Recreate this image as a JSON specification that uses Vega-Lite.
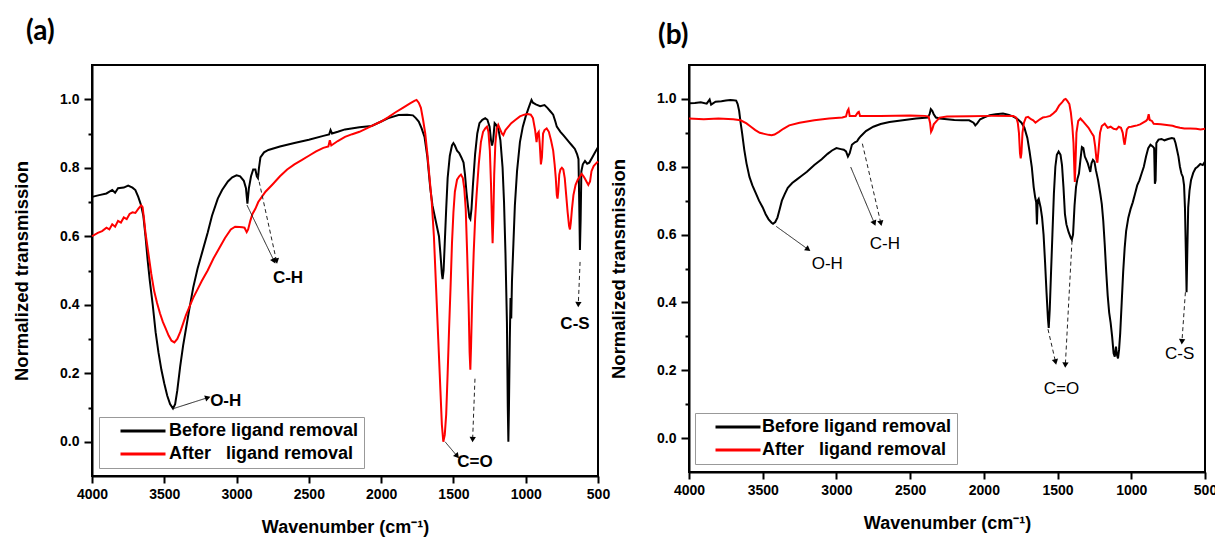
{
"$schema": "https://vega.github.io/schema/vega-lite/v6.json",
"background": "white",
"padding": {"left": 11, "top": 17, "right": 0, "bottom": 0},
"datasets": {
"spectra": [
{"p":"a","s":"Before ligand removal","w":4000,"v":0.715},{"p":"a","s":"Before ligand removal","w":3950,"v":0.72},{"p":"a","s":"Before ligand removal","w":3900,"v":0.725},{"p":"a","s":"Before ligand removal","w":3860,"v":0.735},{"p":"a","s":"Before ligand removal","w":3840,"v":0.727},{"p":"a","s":"Before ligand removal","w":3820,"v":0.74},{"p":"a","s":"Before ligand removal","w":3780,"v":0.742},{"p":"a","s":"Before ligand removal","w":3750,"v":0.748},{"p":"a","s":"Before ligand removal","w":3720,"v":0.742},{"p":"a","s":"Before ligand removal","w":3700,"v":0.735},{"p":"a","s":"Before ligand removal","w":3680,"v":0.715},{"p":"a","s":"Before ligand removal","w":3660,"v":0.69},{"p":"a","s":"Before ligand removal","w":3645,"v":0.66},{"p":"a","s":"Before ligand removal","w":3630,"v":0.6},{"p":"a","s":"Before ligand removal","w":3615,"v":0.53},{"p":"a","s":"Before ligand removal","w":3600,"v":0.47},{"p":"a","s":"Before ligand removal","w":3580,"v":0.4},{"p":"a","s":"Before ligand removal","w":3560,"v":0.32},{"p":"a","s":"Before ligand removal","w":3540,"v":0.26},{"p":"a","s":"Before ligand removal","w":3520,"v":0.21},{"p":"a","s":"Before ligand removal","w":3500,"v":0.17},{"p":"a","s":"Before ligand removal","w":3480,"v":0.135},{"p":"a","s":"Before ligand removal","w":3460,"v":0.11},{"p":"a","s":"Before ligand removal","w":3440,"v":0.097},{"p":"a","s":"Before ligand removal","w":3425,"v":0.11},{"p":"a","s":"Before ligand removal","w":3410,"v":0.15},{"p":"a","s":"Before ligand removal","w":3390,"v":0.22},{"p":"a","s":"Before ligand removal","w":3370,"v":0.28},{"p":"a","s":"Before ligand removal","w":3350,"v":0.33},{"p":"a","s":"Before ligand removal","w":3330,"v":0.38},{"p":"a","s":"Before ligand removal","w":3300,"v":0.45},{"p":"a","s":"Before ligand removal","w":3270,"v":0.505},{"p":"a","s":"Before ligand removal","w":3240,"v":0.55},{"p":"a","s":"Before ligand removal","w":3200,"v":0.61},{"p":"a","s":"Before ligand removal","w":3170,"v":0.66},{"p":"a","s":"Before ligand removal","w":3130,"v":0.71},{"p":"a","s":"Before ligand removal","w":3100,"v":0.735},{"p":"a","s":"Before ligand removal","w":3060,"v":0.76},{"p":"a","s":"Before ligand removal","w":3030,"v":0.772},{"p":"a","s":"Before ligand removal","w":3000,"v":0.778},{"p":"a","s":"Before ligand removal","w":2975,"v":0.775},{"p":"a","s":"Before ligand removal","w":2950,"v":0.762},{"p":"a","s":"Before ligand removal","w":2935,"v":0.74},{"p":"a","s":"Before ligand removal","w":2925,"v":0.695},{"p":"a","s":"Before ligand removal","w":2915,"v":0.74},{"p":"a","s":"Before ligand removal","w":2900,"v":0.775},{"p":"a","s":"Before ligand removal","w":2885,"v":0.795},{"p":"a","s":"Before ligand removal","w":2870,"v":0.795},{"p":"a","s":"Before ligand removal","w":2860,"v":0.775},{"p":"a","s":"Before ligand removal","w":2852,"v":0.77},{"p":"a","s":"Before ligand removal","w":2845,"v":0.8},{"p":"a","s":"Before ligand removal","w":2835,"v":0.83},{"p":"a","s":"Before ligand removal","w":2810,"v":0.845},{"p":"a","s":"Before ligand removal","w":2780,"v":0.852},{"p":"a","s":"Before ligand removal","w":2700,"v":0.862},{"p":"a","s":"Before ligand removal","w":2600,"v":0.872},{"p":"a","s":"Before ligand removal","w":2500,"v":0.882},{"p":"a","s":"Before ligand removal","w":2400,"v":0.893},{"p":"a","s":"Before ligand removal","w":2360,"v":0.897},{"p":"a","s":"Before ligand removal","w":2350,"v":0.91},{"p":"a","s":"Before ligand removal","w":2340,"v":0.9},{"p":"a","s":"Before ligand removal","w":2300,"v":0.905},{"p":"a","s":"Before ligand removal","w":2250,"v":0.912},{"p":"a","s":"Before ligand removal","w":2150,"v":0.918},{"p":"a","s":"Before ligand removal","w":2066,"v":0.922},{"p":"a","s":"Before ligand removal","w":2000,"v":0.935},{"p":"a","s":"Before ligand removal","w":1950,"v":0.945},{"p":"a","s":"Before ligand removal","w":1880,"v":0.954},{"p":"a","s":"Before ligand removal","w":1820,"v":0.955},{"p":"a","s":"Before ligand removal","w":1780,"v":0.953},{"p":"a","s":"Before ligand removal","w":1760,"v":0.945},{"p":"a","s":"Before ligand removal","w":1740,"v":0.935},{"p":"a","s":"Before ligand removal","w":1720,"v":0.915},{"p":"a","s":"Before ligand removal","w":1700,"v":0.89},{"p":"a","s":"Before ligand removal","w":1680,"v":0.83},{"p":"a","s":"Before ligand removal","w":1660,"v":0.74},{"p":"a","s":"Before ligand removal","w":1645,"v":0.69},{"p":"a","s":"Before ligand removal","w":1630,"v":0.66},{"p":"a","s":"Before ligand removal","w":1615,"v":0.63},{"p":"a","s":"Before ligand removal","w":1600,"v":0.6},{"p":"a","s":"Before ligand removal","w":1590,"v":0.55},{"p":"a","s":"Before ligand removal","w":1580,"v":0.49},{"p":"a","s":"Before ligand removal","w":1575,"v":0.475},{"p":"a","s":"Before ligand removal","w":1568,"v":0.5},{"p":"a","s":"Before ligand removal","w":1560,"v":0.58},{"p":"a","s":"Before ligand removal","w":1550,"v":0.68},{"p":"a","s":"Before ligand removal","w":1540,"v":0.77},{"p":"a","s":"Before ligand removal","w":1525,"v":0.835},{"p":"a","s":"Before ligand removal","w":1510,"v":0.865},{"p":"a","s":"Before ligand removal","w":1500,"v":0.872},{"p":"a","s":"Before ligand removal","w":1490,"v":0.865},{"p":"a","s":"Before ligand removal","w":1475,"v":0.85},{"p":"a","s":"Before ligand removal","w":1460,"v":0.843},{"p":"a","s":"Before ligand removal","w":1445,"v":0.83},{"p":"a","s":"Before ligand removal","w":1430,"v":0.815},{"p":"a","s":"Before ligand removal","w":1420,"v":0.78},{"p":"a","s":"Before ligand removal","w":1410,"v":0.73},{"p":"a","s":"Before ligand removal","w":1400,"v":0.69},{"p":"a","s":"Before ligand removal","w":1390,"v":0.655},{"p":"a","s":"Before ligand removal","w":1383,"v":0.65},{"p":"a","s":"Before ligand removal","w":1375,"v":0.68},{"p":"a","s":"Before ligand removal","w":1365,"v":0.75},{"p":"a","s":"Before ligand removal","w":1350,"v":0.84},{"p":"a","s":"Before ligand removal","w":1335,"v":0.9},{"p":"a","s":"Before ligand removal","w":1320,"v":0.93},{"p":"a","s":"Before ligand removal","w":1300,"v":0.94},{"p":"a","s":"Before ligand removal","w":1280,"v":0.945},{"p":"a","s":"Before ligand removal","w":1265,"v":0.94},{"p":"a","s":"Before ligand removal","w":1250,"v":0.92},{"p":"a","s":"Before ligand removal","w":1240,"v":0.88},{"p":"a","s":"Before ligand removal","w":1233,"v":0.865},{"p":"a","s":"Before ligand removal","w":1225,"v":0.88},{"p":"a","s":"Before ligand removal","w":1215,"v":0.93},{"p":"a","s":"Before ligand removal","w":1205,"v":0.925},{"p":"a","s":"Before ligand removal","w":1190,"v":0.915},{"p":"a","s":"Before ligand removal","w":1175,"v":0.88},{"p":"a","s":"Before ligand removal","w":1160,"v":0.8},{"p":"a","s":"Before ligand removal","w":1150,"v":0.7},{"p":"a","s":"Before ligand removal","w":1140,"v":0.55},{"p":"a","s":"Before ligand removal","w":1130,"v":0.35},{"p":"a","s":"Before ligand removal","w":1124,"v":0.1},{"p":"a","s":"Before ligand removal","w":1120,"v":0.0},{"p":"a","s":"Before ligand removal","w":1116,"v":0.1},{"p":"a","s":"Before ligand removal","w":1110,"v":0.3},{"p":"a","s":"Before ligand removal","w":1105,"v":0.42},{"p":"a","s":"Before ligand removal","w":1100,"v":0.36},{"p":"a","s":"Before ligand removal","w":1095,"v":0.47},{"p":"a","s":"Before ligand removal","w":1085,"v":0.58},{"p":"a","s":"Before ligand removal","w":1075,"v":0.69},{"p":"a","s":"Before ligand removal","w":1060,"v":0.79},{"p":"a","s":"Before ligand removal","w":1040,"v":0.875},{"p":"a","s":"Before ligand removal","w":1020,"v":0.92},{"p":"a","s":"Before ligand removal","w":1000,"v":0.95},{"p":"a","s":"Before ligand removal","w":980,"v":0.975},{"p":"a","s":"Before ligand removal","w":960,"v":0.998},{"p":"a","s":"Before ligand removal","w":950,"v":0.99},{"p":"a","s":"Before ligand removal","w":930,"v":0.985},{"p":"a","s":"Before ligand removal","w":900,"v":0.98},{"p":"a","s":"Before ligand removal","w":870,"v":0.983},{"p":"a","s":"Before ligand removal","w":850,"v":0.975},{"p":"a","s":"Before ligand removal","w":830,"v":0.965},{"p":"a","s":"Before ligand removal","w":810,"v":0.955},{"p":"a","s":"Before ligand removal","w":795,"v":0.935},{"p":"a","s":"Before ligand removal","w":785,"v":0.92},{"p":"a","s":"Before ligand removal","w":760,"v":0.905},{"p":"a","s":"Before ligand removal","w":740,"v":0.895},{"p":"a","s":"Before ligand removal","w":720,"v":0.885},{"p":"a","s":"Before ligand removal","w":700,"v":0.875},{"p":"a","s":"Before ligand removal","w":680,"v":0.865},{"p":"a","s":"Before ligand removal","w":660,"v":0.855},{"p":"a","s":"Before ligand removal","w":645,"v":0.84},{"p":"a","s":"Before ligand removal","w":635,"v":0.825},{"p":"a","s":"Before ligand removal","w":630,"v":0.7},{"p":"a","s":"Before ligand removal","w":625,"v":0.56},{"p":"a","s":"Before ligand removal","w":620,"v":0.65},{"p":"a","s":"Before ligand removal","w":615,"v":0.79},{"p":"a","s":"Before ligand removal","w":605,"v":0.81},{"p":"a","s":"Before ligand removal","w":590,"v":0.82},{"p":"a","s":"Before ligand removal","w":575,"v":0.812},{"p":"a","s":"Before ligand removal","w":560,"v":0.815},{"p":"a","s":"Before ligand removal","w":540,"v":0.83},{"p":"a","s":"Before ligand removal","w":520,"v":0.845},{"p":"a","s":"Before ligand removal","w":500,"v":0.86},
{"p":"a","s":"After\u00a0\u00a0\u00a0ligand removal","w":4000,"v":0.6},{"p":"a","s":"After\u00a0\u00a0\u00a0ligand removal","w":3960,"v":0.61},{"p":"a","s":"After\u00a0\u00a0\u00a0ligand removal","w":3930,"v":0.615},{"p":"a","s":"After\u00a0\u00a0\u00a0ligand removal","w":3900,"v":0.625},{"p":"a","s":"After\u00a0\u00a0\u00a0ligand removal","w":3880,"v":0.62},{"p":"a","s":"After\u00a0\u00a0\u00a0ligand removal","w":3860,"v":0.635},{"p":"a","s":"After\u00a0\u00a0\u00a0ligand removal","w":3840,"v":0.628},{"p":"a","s":"After\u00a0\u00a0\u00a0ligand removal","w":3820,"v":0.645},{"p":"a","s":"After\u00a0\u00a0\u00a0ligand removal","w":3800,"v":0.64},{"p":"a","s":"After\u00a0\u00a0\u00a0ligand removal","w":3780,"v":0.655},{"p":"a","s":"After\u00a0\u00a0\u00a0ligand removal","w":3760,"v":0.65},{"p":"a","s":"After\u00a0\u00a0\u00a0ligand removal","w":3740,"v":0.665},{"p":"a","s":"After\u00a0\u00a0\u00a0ligand removal","w":3720,"v":0.67},{"p":"a","s":"After\u00a0\u00a0\u00a0ligand removal","w":3700,"v":0.668},{"p":"a","s":"After\u00a0\u00a0\u00a0ligand removal","w":3680,"v":0.68},{"p":"a","s":"After\u00a0\u00a0\u00a0ligand removal","w":3660,"v":0.69},{"p":"a","s":"After\u00a0\u00a0\u00a0ligand removal","w":3650,"v":0.685},{"p":"a","s":"After\u00a0\u00a0\u00a0ligand removal","w":3640,"v":0.65},{"p":"a","s":"After\u00a0\u00a0\u00a0ligand removal","w":3630,"v":0.61},{"p":"a","s":"After\u00a0\u00a0\u00a0ligand removal","w":3610,"v":0.55},{"p":"a","s":"After\u00a0\u00a0\u00a0ligand removal","w":3590,"v":0.49},{"p":"a","s":"After\u00a0\u00a0\u00a0ligand removal","w":3570,"v":0.44},{"p":"a","s":"After\u00a0\u00a0\u00a0ligand removal","w":3550,"v":0.405},{"p":"a","s":"After\u00a0\u00a0\u00a0ligand removal","w":3530,"v":0.375},{"p":"a","s":"After\u00a0\u00a0\u00a0ligand removal","w":3510,"v":0.35},{"p":"a","s":"After\u00a0\u00a0\u00a0ligand removal","w":3490,"v":0.33},{"p":"a","s":"After\u00a0\u00a0\u00a0ligand removal","w":3470,"v":0.31},{"p":"a","s":"After\u00a0\u00a0\u00a0ligand removal","w":3450,"v":0.295},{"p":"a","s":"After\u00a0\u00a0\u00a0ligand removal","w":3430,"v":0.29},{"p":"a","s":"After\u00a0\u00a0\u00a0ligand removal","w":3410,"v":0.3},{"p":"a","s":"After\u00a0\u00a0\u00a0ligand removal","w":3390,"v":0.32},{"p":"a","s":"After\u00a0\u00a0\u00a0ligand removal","w":3370,"v":0.345},{"p":"a","s":"After\u00a0\u00a0\u00a0ligand removal","w":3350,"v":0.37},{"p":"a","s":"After\u00a0\u00a0\u00a0ligand removal","w":3330,"v":0.39},{"p":"a","s":"After\u00a0\u00a0\u00a0ligand removal","w":3300,"v":0.42},{"p":"a","s":"After\u00a0\u00a0\u00a0ligand removal","w":3270,"v":0.445},{"p":"a","s":"After\u00a0\u00a0\u00a0ligand removal","w":3240,"v":0.47},{"p":"a","s":"After\u00a0\u00a0\u00a0ligand removal","w":3200,"v":0.5},{"p":"a","s":"After\u00a0\u00a0\u00a0ligand removal","w":3160,"v":0.535},{"p":"a","s":"After\u00a0\u00a0\u00a0ligand removal","w":3120,"v":0.565},{"p":"a","s":"After\u00a0\u00a0\u00a0ligand removal","w":3080,"v":0.595},{"p":"a","s":"After\u00a0\u00a0\u00a0ligand removal","w":3040,"v":0.62},{"p":"a","s":"After\u00a0\u00a0\u00a0ligand removal","w":3010,"v":0.628},{"p":"a","s":"After\u00a0\u00a0\u00a0ligand removal","w":2980,"v":0.627},{"p":"a","s":"After\u00a0\u00a0\u00a0ligand removal","w":2960,"v":0.626},{"p":"a","s":"After\u00a0\u00a0\u00a0ligand removal","w":2945,"v":0.625},{"p":"a","s":"After\u00a0\u00a0\u00a0ligand removal","w":2930,"v":0.612},{"p":"a","s":"After\u00a0\u00a0\u00a0ligand removal","w":2920,"v":0.62},{"p":"a","s":"After\u00a0\u00a0\u00a0ligand removal","w":2905,"v":0.645},{"p":"a","s":"After\u00a0\u00a0\u00a0ligand removal","w":2890,"v":0.665},{"p":"a","s":"After\u00a0\u00a0\u00a0ligand removal","w":2870,"v":0.68},{"p":"a","s":"After\u00a0\u00a0\u00a0ligand removal","w":2850,"v":0.7},{"p":"a","s":"After\u00a0\u00a0\u00a0ligand removal","w":2800,"v":0.73},{"p":"a","s":"After\u00a0\u00a0\u00a0ligand removal","w":2750,"v":0.752},{"p":"a","s":"After\u00a0\u00a0\u00a0ligand removal","w":2700,"v":0.775},{"p":"a","s":"After\u00a0\u00a0\u00a0ligand removal","w":2650,"v":0.795},{"p":"a","s":"After\u00a0\u00a0\u00a0ligand removal","w":2600,"v":0.81},{"p":"a","s":"After\u00a0\u00a0\u00a0ligand removal","w":2550,"v":0.822},{"p":"a","s":"After\u00a0\u00a0\u00a0ligand removal","w":2500,"v":0.835},{"p":"a","s":"After\u00a0\u00a0\u00a0ligand removal","w":2450,"v":0.848},{"p":"a","s":"After\u00a0\u00a0\u00a0ligand removal","w":2400,"v":0.858},{"p":"a","s":"After\u00a0\u00a0\u00a0ligand removal","w":2365,"v":0.862},{"p":"a","s":"After\u00a0\u00a0\u00a0ligand removal","w":2355,"v":0.88},{"p":"a","s":"After\u00a0\u00a0\u00a0ligand removal","w":2345,"v":0.865},{"p":"a","s":"After\u00a0\u00a0\u00a0ligand removal","w":2300,"v":0.878},{"p":"a","s":"After\u00a0\u00a0\u00a0ligand removal","w":2250,"v":0.89},{"p":"a","s":"After\u00a0\u00a0\u00a0ligand removal","w":2200,"v":0.898},{"p":"a","s":"After\u00a0\u00a0\u00a0ligand removal","w":2150,"v":0.905},{"p":"a","s":"After\u00a0\u00a0\u00a0ligand removal","w":2100,"v":0.915},{"p":"a","s":"After\u00a0\u00a0\u00a0ligand removal","w":2050,"v":0.925},{"p":"a","s":"After\u00a0\u00a0\u00a0ligand removal","w":2000,"v":0.935},{"p":"a","s":"After\u00a0\u00a0\u00a0ligand removal","w":1950,"v":0.948},{"p":"a","s":"After\u00a0\u00a0\u00a0ligand removal","w":1900,"v":0.962},{"p":"a","s":"After\u00a0\u00a0\u00a0ligand removal","w":1850,"v":0.975},{"p":"a","s":"After\u00a0\u00a0\u00a0ligand removal","w":1800,"v":0.988},{"p":"a","s":"After\u00a0\u00a0\u00a0ligand removal","w":1770,"v":0.995},{"p":"a","s":"After\u00a0\u00a0\u00a0ligand removal","w":1755,"v":0.998},{"p":"a","s":"After\u00a0\u00a0\u00a0ligand removal","w":1740,"v":0.99},{"p":"a","s":"After\u00a0\u00a0\u00a0ligand removal","w":1725,"v":0.975},{"p":"a","s":"After\u00a0\u00a0\u00a0ligand removal","w":1710,"v":0.94},{"p":"a","s":"After\u00a0\u00a0\u00a0ligand removal","w":1695,"v":0.9},{"p":"a","s":"After\u00a0\u00a0\u00a0ligand removal","w":1680,"v":0.84},{"p":"a","s":"After\u00a0\u00a0\u00a0ligand removal","w":1665,"v":0.77},{"p":"a","s":"After\u00a0\u00a0\u00a0ligand removal","w":1650,"v":0.7},{"p":"a","s":"After\u00a0\u00a0\u00a0ligand removal","w":1635,"v":0.6},{"p":"a","s":"After\u00a0\u00a0\u00a0ligand removal","w":1620,"v":0.45},{"p":"a","s":"After\u00a0\u00a0\u00a0ligand removal","w":1605,"v":0.3},{"p":"a","s":"After\u00a0\u00a0\u00a0ligand removal","w":1590,"v":0.15},{"p":"a","s":"After\u00a0\u00a0\u00a0ligand removal","w":1580,"v":0.05},{"p":"a","s":"After\u00a0\u00a0\u00a0ligand removal","w":1570,"v":0.0},{"p":"a","s":"After\u00a0\u00a0\u00a0ligand removal","w":1560,"v":0.02},{"p":"a","s":"After\u00a0\u00a0\u00a0ligand removal","w":1550,"v":0.08},{"p":"a","s":"After\u00a0\u00a0\u00a0ligand removal","w":1540,"v":0.2},{"p":"a","s":"After\u00a0\u00a0\u00a0ligand removal","w":1530,"v":0.33},{"p":"a","s":"After\u00a0\u00a0\u00a0ligand removal","w":1520,"v":0.45},{"p":"a","s":"After\u00a0\u00a0\u00a0ligand removal","w":1510,"v":0.58},{"p":"a","s":"After\u00a0\u00a0\u00a0ligand removal","w":1500,"v":0.67},{"p":"a","s":"After\u00a0\u00a0\u00a0ligand removal","w":1490,"v":0.73},{"p":"a","s":"After\u00a0\u00a0\u00a0ligand removal","w":1475,"v":0.765},{"p":"a","s":"After\u00a0\u00a0\u00a0ligand removal","w":1460,"v":0.775},{"p":"a","s":"After\u00a0\u00a0\u00a0ligand removal","w":1448,"v":0.78},{"p":"a","s":"After\u00a0\u00a0\u00a0ligand removal","w":1435,"v":0.77},{"p":"a","s":"After\u00a0\u00a0\u00a0ligand removal","w":1425,"v":0.74},{"p":"a","s":"After\u00a0\u00a0\u00a0ligand removal","w":1415,"v":0.68},{"p":"a","s":"After\u00a0\u00a0\u00a0ligand removal","w":1405,"v":0.55},{"p":"a","s":"After\u00a0\u00a0\u00a0ligand removal","w":1395,"v":0.4},{"p":"a","s":"After\u00a0\u00a0\u00a0ligand removal","w":1388,"v":0.26},{"p":"a","s":"After\u00a0\u00a0\u00a0ligand removal","w":1383,"v":0.21},{"p":"a","s":"After\u00a0\u00a0\u00a0ligand removal","w":1378,"v":0.28},{"p":"a","s":"After\u00a0\u00a0\u00a0ligand removal","w":1370,"v":0.42},{"p":"a","s":"After\u00a0\u00a0\u00a0ligand removal","w":1360,"v":0.55},{"p":"a","s":"After\u00a0\u00a0\u00a0ligand removal","w":1350,"v":0.65},{"p":"a","s":"After\u00a0\u00a0\u00a0ligand removal","w":1340,"v":0.72},{"p":"a","s":"After\u00a0\u00a0\u00a0ligand removal","w":1325,"v":0.81},{"p":"a","s":"After\u00a0\u00a0\u00a0ligand removal","w":1310,"v":0.875},{"p":"a","s":"After\u00a0\u00a0\u00a0ligand removal","w":1295,"v":0.905},{"p":"a","s":"After\u00a0\u00a0\u00a0ligand removal","w":1280,"v":0.915},{"p":"a","s":"After\u00a0\u00a0\u00a0ligand removal","w":1268,"v":0.92},{"p":"a","s":"After\u00a0\u00a0\u00a0ligand removal","w":1258,"v":0.905},{"p":"a","s":"After\u00a0\u00a0\u00a0ligand removal","w":1248,"v":0.85},{"p":"a","s":"After\u00a0\u00a0\u00a0ligand removal","w":1240,"v":0.75},{"p":"a","s":"After\u00a0\u00a0\u00a0ligand removal","w":1234,"v":0.65},{"p":"a","s":"After\u00a0\u00a0\u00a0ligand removal","w":1229,"v":0.58},{"p":"a","s":"After\u00a0\u00a0\u00a0ligand removal","w":1224,"v":0.65},{"p":"a","s":"After\u00a0\u00a0\u00a0ligand removal","w":1218,"v":0.78},{"p":"a","s":"After\u00a0\u00a0\u00a0ligand removal","w":1210,"v":0.87},{"p":"a","s":"After\u00a0\u00a0\u00a0ligand removal","w":1200,"v":0.915},{"p":"a","s":"After\u00a0\u00a0\u00a0ligand removal","w":1190,"v":0.925},{"p":"a","s":"After\u00a0\u00a0\u00a0ligand removal","w":1180,"v":0.915},{"p":"a","s":"After\u00a0\u00a0\u00a0ligand removal","w":1165,"v":0.9},{"p":"a","s":"After\u00a0\u00a0\u00a0ligand removal","w":1155,"v":0.895},{"p":"a","s":"After\u00a0\u00a0\u00a0ligand removal","w":1140,"v":0.91},{"p":"a","s":"After\u00a0\u00a0\u00a0ligand removal","w":1120,"v":0.92},{"p":"a","s":"After\u00a0\u00a0\u00a0ligand removal","w":1100,"v":0.93},{"p":"a","s":"After\u00a0\u00a0\u00a0ligand removal","w":1070,"v":0.94},{"p":"a","s":"After\u00a0\u00a0\u00a0ligand removal","w":1040,"v":0.95},{"p":"a","s":"After\u00a0\u00a0\u00a0ligand removal","w":1010,"v":0.955},{"p":"a","s":"After\u00a0\u00a0\u00a0ligand removal","w":985,"v":0.957},{"p":"a","s":"After\u00a0\u00a0\u00a0ligand removal","w":965,"v":0.955},{"p":"a","s":"After\u00a0\u00a0\u00a0ligand removal","w":950,"v":0.945},{"p":"a","s":"After\u00a0\u00a0\u00a0ligand removal","w":935,"v":0.91},{"p":"a","s":"After\u00a0\u00a0\u00a0ligand removal","w":925,"v":0.875},{"p":"a","s":"After\u00a0\u00a0\u00a0ligand removal","w":918,"v":0.9},{"p":"a","s":"After\u00a0\u00a0\u00a0ligand removal","w":910,"v":0.905},{"p":"a","s":"After\u00a0\u00a0\u00a0ligand removal","w":903,"v":0.87},{"p":"a","s":"After\u00a0\u00a0\u00a0ligand removal","w":895,"v":0.81},{"p":"a","s":"After\u00a0\u00a0\u00a0ligand removal","w":888,"v":0.83},{"p":"a","s":"After\u00a0\u00a0\u00a0ligand removal","w":880,"v":0.9},{"p":"a","s":"After\u00a0\u00a0\u00a0ligand removal","w":870,"v":0.91},{"p":"a","s":"After\u00a0\u00a0\u00a0ligand removal","w":855,"v":0.915},{"p":"a","s":"After\u00a0\u00a0\u00a0ligand removal","w":840,"v":0.905},{"p":"a","s":"After\u00a0\u00a0\u00a0ligand removal","w":825,"v":0.88},{"p":"a","s":"After\u00a0\u00a0\u00a0ligand removal","w":810,"v":0.85},{"p":"a","s":"After\u00a0\u00a0\u00a0ligand removal","w":800,"v":0.81},{"p":"a","s":"After\u00a0\u00a0\u00a0ligand removal","w":792,"v":0.77},{"p":"a","s":"After\u00a0\u00a0\u00a0ligand removal","w":785,"v":0.72},{"p":"a","s":"After\u00a0\u00a0\u00a0ligand removal","w":780,"v":0.71},{"p":"a","s":"After\u00a0\u00a0\u00a0ligand removal","w":775,"v":0.73},{"p":"a","s":"After\u00a0\u00a0\u00a0ligand removal","w":768,"v":0.78},{"p":"a","s":"After\u00a0\u00a0\u00a0ligand removal","w":760,"v":0.795},{"p":"a","s":"After\u00a0\u00a0\u00a0ligand removal","w":750,"v":0.8},{"p":"a","s":"After\u00a0\u00a0\u00a0ligand removal","w":740,"v":0.795},{"p":"a","s":"After\u00a0\u00a0\u00a0ligand removal","w":730,"v":0.77},{"p":"a","s":"After\u00a0\u00a0\u00a0ligand removal","w":720,"v":0.72},{"p":"a","s":"After\u00a0\u00a0\u00a0ligand removal","w":710,"v":0.67},{"p":"a","s":"After\u00a0\u00a0\u00a0ligand removal","w":700,"v":0.63},{"p":"a","s":"After\u00a0\u00a0\u00a0ligand removal","w":694,"v":0.62},{"p":"a","s":"After\u00a0\u00a0\u00a0ligand removal","w":688,"v":0.64},{"p":"a","s":"After\u00a0\u00a0\u00a0ligand removal","w":680,"v":0.68},{"p":"a","s":"After\u00a0\u00a0\u00a0ligand removal","w":670,"v":0.72},{"p":"a","s":"After\u00a0\u00a0\u00a0ligand removal","w":655,"v":0.75},{"p":"a","s":"After\u00a0\u00a0\u00a0ligand removal","w":640,"v":0.765},{"p":"a","s":"After\u00a0\u00a0\u00a0ligand removal","w":625,"v":0.775},{"p":"a","s":"After\u00a0\u00a0\u00a0ligand removal","w":613,"v":0.782},{"p":"a","s":"After\u00a0\u00a0\u00a0ligand removal","w":600,"v":0.775},{"p":"a","s":"After\u00a0\u00a0\u00a0ligand removal","w":590,"v":0.768},{"p":"a","s":"After\u00a0\u00a0\u00a0ligand removal","w":580,"v":0.76},{"p":"a","s":"After\u00a0\u00a0\u00a0ligand removal","w":567,"v":0.75},{"p":"a","s":"After\u00a0\u00a0\u00a0ligand removal","w":555,"v":0.76},{"p":"a","s":"After\u00a0\u00a0\u00a0ligand removal","w":545,"v":0.79},{"p":"a","s":"After\u00a0\u00a0\u00a0ligand removal","w":530,"v":0.805},{"p":"a","s":"After\u00a0\u00a0\u00a0ligand removal","w":515,"v":0.812},{"p":"a","s":"After\u00a0\u00a0\u00a0ligand removal","w":500,"v":0.818},
{"p":"b","s":"Before ligand removal","w":4000,"v":0.987},{"p":"b","s":"Before ligand removal","w":3960,"v":0.988},{"p":"b","s":"Before ligand removal","w":3920,"v":0.99},{"p":"b","s":"Before ligand removal","w":3880,"v":0.986},{"p":"b","s":"Before ligand removal","w":3860,"v":0.998},{"p":"b","s":"Before ligand removal","w":3850,"v":0.983},{"p":"b","s":"Before ligand removal","w":3820,"v":0.992},{"p":"b","s":"Before ligand removal","w":3780,"v":0.993},{"p":"b","s":"Before ligand removal","w":3750,"v":0.995},{"p":"b","s":"Before ligand removal","w":3720,"v":0.997},{"p":"b","s":"Before ligand removal","w":3700,"v":0.996},{"p":"b","s":"Before ligand removal","w":3680,"v":0.995},{"p":"b","s":"Before ligand removal","w":3670,"v":0.985},{"p":"b","s":"Before ligand removal","w":3660,"v":0.965},{"p":"b","s":"Before ligand removal","w":3650,"v":0.93},{"p":"b","s":"Before ligand removal","w":3640,"v":0.9},{"p":"b","s":"Before ligand removal","w":3625,"v":0.85},{"p":"b","s":"Before ligand removal","w":3610,"v":0.81},{"p":"b","s":"Before ligand removal","w":3590,"v":0.77},{"p":"b","s":"Before ligand removal","w":3570,"v":0.745},{"p":"b","s":"Before ligand removal","w":3550,"v":0.725},{"p":"b","s":"Before ligand removal","w":3525,"v":0.7},{"p":"b","s":"Before ligand removal","w":3500,"v":0.68},{"p":"b","s":"Before ligand removal","w":3480,"v":0.66},{"p":"b","s":"Before ligand removal","w":3460,"v":0.645},{"p":"b","s":"Before ligand removal","w":3440,"v":0.635},{"p":"b","s":"Before ligand removal","w":3430,"v":0.632},{"p":"b","s":"Before ligand removal","w":3415,"v":0.637},{"p":"b","s":"Before ligand removal","w":3400,"v":0.65},{"p":"b","s":"Before ligand removal","w":3385,"v":0.675},{"p":"b","s":"Before ligand removal","w":3370,"v":0.7},{"p":"b","s":"Before ligand removal","w":3350,"v":0.72},{"p":"b","s":"Before ligand removal","w":3330,"v":0.738},{"p":"b","s":"Before ligand removal","w":3300,"v":0.752},{"p":"b","s":"Before ligand removal","w":3270,"v":0.762},{"p":"b","s":"Before ligand removal","w":3240,"v":0.772},{"p":"b","s":"Before ligand removal","w":3200,"v":0.785},{"p":"b","s":"Before ligand removal","w":3150,"v":0.805},{"p":"b","s":"Before ligand removal","w":3100,"v":0.822},{"p":"b","s":"Before ligand removal","w":3060,"v":0.838},{"p":"b","s":"Before ligand removal","w":3030,"v":0.848},{"p":"b","s":"Before ligand removal","w":3000,"v":0.855},{"p":"b","s":"Before ligand removal","w":2970,"v":0.852},{"p":"b","s":"Before ligand removal","w":2950,"v":0.85},{"p":"b","s":"Before ligand removal","w":2935,"v":0.845},{"p":"b","s":"Before ligand removal","w":2922,"v":0.83},{"p":"b","s":"Before ligand removal","w":2910,"v":0.84},{"p":"b","s":"Before ligand removal","w":2895,"v":0.865},{"p":"b","s":"Before ligand removal","w":2875,"v":0.872},{"p":"b","s":"Before ligand removal","w":2860,"v":0.875},{"p":"b","s":"Before ligand removal","w":2850,"v":0.882},{"p":"b","s":"Before ligand removal","w":2835,"v":0.89},{"p":"b","s":"Before ligand removal","w":2800,"v":0.905},{"p":"b","s":"Before ligand removal","w":2750,"v":0.918},{"p":"b","s":"Before ligand removal","w":2700,"v":0.926},{"p":"b","s":"Before ligand removal","w":2640,"v":0.932},{"p":"b","s":"Before ligand removal","w":2550,"v":0.937},{"p":"b","s":"Before ligand removal","w":2460,"v":0.942},{"p":"b","s":"Before ligand removal","w":2380,"v":0.945},{"p":"b","s":"Before ligand removal","w":2368,"v":0.955},{"p":"b","s":"Before ligand removal","w":2360,"v":0.97},{"p":"b","s":"Before ligand removal","w":2350,"v":0.965},{"p":"b","s":"Before ligand removal","w":2340,"v":0.955},{"p":"b","s":"Before ligand removal","w":2325,"v":0.945},{"p":"b","s":"Before ligand removal","w":2300,"v":0.942},{"p":"b","s":"Before ligand removal","w":2250,"v":0.94},{"p":"b","s":"Before ligand removal","w":2200,"v":0.938},{"p":"b","s":"Before ligand removal","w":2150,"v":0.937},{"p":"b","s":"Before ligand removal","w":2100,"v":0.937},{"p":"b","s":"Before ligand removal","w":2070,"v":0.93},{"p":"b","s":"Before ligand removal","w":2058,"v":0.922},{"p":"b","s":"Before ligand removal","w":2045,"v":0.928},{"p":"b","s":"Before ligand removal","w":2025,"v":0.94},{"p":"b","s":"Before ligand removal","w":2000,"v":0.945},{"p":"b","s":"Before ligand removal","w":1960,"v":0.952},{"p":"b","s":"Before ligand removal","w":1920,"v":0.955},{"p":"b","s":"Before ligand removal","w":1870,"v":0.957},{"p":"b","s":"Before ligand removal","w":1830,"v":0.953},{"p":"b","s":"Before ligand removal","w":1800,"v":0.948},{"p":"b","s":"Before ligand removal","w":1770,"v":0.94},{"p":"b","s":"Before ligand removal","w":1745,"v":0.93},{"p":"b","s":"Before ligand removal","w":1725,"v":0.915},{"p":"b","s":"Before ligand removal","w":1705,"v":0.885},{"p":"b","s":"Before ligand removal","w":1690,"v":0.845},{"p":"b","s":"Before ligand removal","w":1675,"v":0.8},{"p":"b","s":"Before ligand removal","w":1662,"v":0.74},{"p":"b","s":"Before ligand removal","w":1652,"v":0.71},{"p":"b","s":"Before ligand removal","w":1645,"v":0.695},{"p":"b","s":"Before ligand removal","w":1640,"v":0.63},{"p":"b","s":"Before ligand removal","w":1635,"v":0.7},{"p":"b","s":"Before ligand removal","w":1628,"v":0.705},{"p":"b","s":"Before ligand removal","w":1615,"v":0.68},{"p":"b","s":"Before ligand removal","w":1605,"v":0.65},{"p":"b","s":"Before ligand removal","w":1595,"v":0.6},{"p":"b","s":"Before ligand removal","w":1585,"v":0.52},{"p":"b","s":"Before ligand removal","w":1575,"v":0.43},{"p":"b","s":"Before ligand removal","w":1565,"v":0.35},{"p":"b","s":"Before ligand removal","w":1560,"v":0.325},{"p":"b","s":"Before ligand removal","w":1553,"v":0.38},{"p":"b","s":"Before ligand removal","w":1545,"v":0.48},{"p":"b","s":"Before ligand removal","w":1535,"v":0.6},{"p":"b","s":"Before ligand removal","w":1525,"v":0.72},{"p":"b","s":"Before ligand removal","w":1515,"v":0.8},{"p":"b","s":"Before ligand removal","w":1505,"v":0.835},{"p":"b","s":"Before ligand removal","w":1493,"v":0.845},{"p":"b","s":"Before ligand removal","w":1480,"v":0.835},{"p":"b","s":"Before ligand removal","w":1470,"v":0.805},{"p":"b","s":"Before ligand removal","w":1460,"v":0.74},{"p":"b","s":"Before ligand removal","w":1450,"v":0.66},{"p":"b","s":"Before ligand removal","w":1440,"v":0.63},{"p":"b","s":"Before ligand removal","w":1425,"v":0.607},{"p":"b","s":"Before ligand removal","w":1410,"v":0.59},{"p":"b","s":"Before ligand removal","w":1403,"v":0.585},{"p":"b","s":"Before ligand removal","w":1395,"v":0.6},{"p":"b","s":"Before ligand removal","w":1385,"v":0.685},{"p":"b","s":"Before ligand removal","w":1375,"v":0.74},{"p":"b","s":"Before ligand removal","w":1365,"v":0.765},{"p":"b","s":"Before ligand removal","w":1355,"v":0.78},{"p":"b","s":"Before ligand removal","w":1345,"v":0.82},{"p":"b","s":"Before ligand removal","w":1335,"v":0.858},{"p":"b","s":"Before ligand removal","w":1325,"v":0.855},{"p":"b","s":"Before ligand removal","w":1315,"v":0.83},{"p":"b","s":"Before ligand removal","w":1305,"v":0.82},{"p":"b","s":"Before ligand removal","w":1295,"v":0.81},{"p":"b","s":"Before ligand removal","w":1285,"v":0.795},{"p":"b","s":"Before ligand removal","w":1278,"v":0.785},{"p":"b","s":"Before ligand removal","w":1270,"v":0.81},{"p":"b","s":"Before ligand removal","w":1260,"v":0.82},{"p":"b","s":"Before ligand removal","w":1250,"v":0.815},{"p":"b","s":"Before ligand removal","w":1240,"v":0.79},{"p":"b","s":"Before ligand removal","w":1225,"v":0.76},{"p":"b","s":"Before ligand removal","w":1210,"v":0.72},{"p":"b","s":"Before ligand removal","w":1200,"v":0.69},{"p":"b","s":"Before ligand removal","w":1190,"v":0.64},{"p":"b","s":"Before ligand removal","w":1180,"v":0.57},{"p":"b","s":"Before ligand removal","w":1170,"v":0.49},{"p":"b","s":"Before ligand removal","w":1160,"v":0.42},{"p":"b","s":"Before ligand removal","w":1150,"v":0.37},{"p":"b","s":"Before ligand removal","w":1140,"v":0.34},{"p":"b","s":"Before ligand removal","w":1130,"v":0.3},{"p":"b","s":"Before ligand removal","w":1120,"v":0.25},{"p":"b","s":"Before ligand removal","w":1112,"v":0.24},{"p":"b","s":"Before ligand removal","w":1104,"v":0.27},{"p":"b","s":"Before ligand removal","w":1097,"v":0.245},{"p":"b","s":"Before ligand removal","w":1090,"v":0.235},{"p":"b","s":"Before ligand removal","w":1083,"v":0.26},{"p":"b","s":"Before ligand removal","w":1075,"v":0.31},{"p":"b","s":"Before ligand removal","w":1065,"v":0.4},{"p":"b","s":"Before ligand removal","w":1055,"v":0.49},{"p":"b","s":"Before ligand removal","w":1045,"v":0.56},{"p":"b","s":"Before ligand removal","w":1035,"v":0.61},{"p":"b","s":"Before ligand removal","w":1020,"v":0.65},{"p":"b","s":"Before ligand removal","w":1005,"v":0.675},{"p":"b","s":"Before ligand removal","w":990,"v":0.695},{"p":"b","s":"Before ligand removal","w":975,"v":0.72},{"p":"b","s":"Before ligand removal","w":960,"v":0.745},{"p":"b","s":"Before ligand removal","w":945,"v":0.76},{"p":"b","s":"Before ligand removal","w":930,"v":0.78},{"p":"b","s":"Before ligand removal","w":915,"v":0.8},{"p":"b","s":"Before ligand removal","w":900,"v":0.83},{"p":"b","s":"Before ligand removal","w":885,"v":0.855},{"p":"b","s":"Before ligand removal","w":870,"v":0.865},{"p":"b","s":"Before ligand removal","w":855,"v":0.86},{"p":"b","s":"Before ligand removal","w":845,"v":0.855},{"p":"b","s":"Before ligand removal","w":840,"v":0.75},{"p":"b","s":"Before ligand removal","w":835,"v":0.76},{"p":"b","s":"Before ligand removal","w":830,"v":0.87},{"p":"b","s":"Before ligand removal","w":815,"v":0.88},{"p":"b","s":"Before ligand removal","w":795,"v":0.882},{"p":"b","s":"Before ligand removal","w":775,"v":0.878},{"p":"b","s":"Before ligand removal","w":750,"v":0.882},{"p":"b","s":"Before ligand removal","w":725,"v":0.885},{"p":"b","s":"Before ligand removal","w":710,"v":0.883},{"p":"b","s":"Before ligand removal","w":700,"v":0.87},{"p":"b","s":"Before ligand removal","w":690,"v":0.85},{"p":"b","s":"Before ligand removal","w":680,"v":0.83},{"p":"b","s":"Before ligand removal","w":670,"v":0.8},{"p":"b","s":"Before ligand removal","w":660,"v":0.78},{"p":"b","s":"Before ligand removal","w":650,"v":0.77},{"p":"b","s":"Before ligand removal","w":642,"v":0.745},{"p":"b","s":"Before ligand removal","w":636,"v":0.68},{"p":"b","s":"Before ligand removal","w":630,"v":0.55},{"p":"b","s":"Before ligand removal","w":625,"v":0.43},{"p":"b","s":"Before ligand removal","w":620,"v":0.55},{"p":"b","s":"Before ligand removal","w":614,"v":0.68},{"p":"b","s":"Before ligand removal","w":605,"v":0.73},{"p":"b","s":"Before ligand removal","w":595,"v":0.76},{"p":"b","s":"Before ligand removal","w":580,"v":0.782},{"p":"b","s":"Before ligand removal","w":565,"v":0.795},{"p":"b","s":"Before ligand removal","w":550,"v":0.8},{"p":"b","s":"Before ligand removal","w":532,"v":0.808},{"p":"b","s":"Before ligand removal","w":515,"v":0.805},{"p":"b","s":"Before ligand removal","w":500,"v":0.815},
{"p":"b","s":"After\u00a0\u00a0\u00a0ligand removal","w":4000,"v":0.942},{"p":"b","s":"After\u00a0\u00a0\u00a0ligand removal","w":3900,"v":0.94},{"p":"b","s":"After\u00a0\u00a0\u00a0ligand removal","w":3800,"v":0.942},{"p":"b","s":"After\u00a0\u00a0\u00a0ligand removal","w":3700,"v":0.94},{"p":"b","s":"After\u00a0\u00a0\u00a0ligand removal","w":3650,"v":0.937},{"p":"b","s":"After\u00a0\u00a0\u00a0ligand removal","w":3610,"v":0.928},{"p":"b","s":"After\u00a0\u00a0\u00a0ligand removal","w":3580,"v":0.918},{"p":"b","s":"After\u00a0\u00a0\u00a0ligand removal","w":3550,"v":0.908},{"p":"b","s":"After\u00a0\u00a0\u00a0ligand removal","w":3520,"v":0.9},{"p":"b","s":"After\u00a0\u00a0\u00a0ligand removal","w":3490,"v":0.897},{"p":"b","s":"After\u00a0\u00a0\u00a0ligand removal","w":3460,"v":0.894},{"p":"b","s":"After\u00a0\u00a0\u00a0ligand removal","w":3440,"v":0.893},{"p":"b","s":"After\u00a0\u00a0\u00a0ligand removal","w":3420,"v":0.895},{"p":"b","s":"After\u00a0\u00a0\u00a0ligand removal","w":3390,"v":0.903},{"p":"b","s":"After\u00a0\u00a0\u00a0ligand removal","w":3360,"v":0.912},{"p":"b","s":"After\u00a0\u00a0\u00a0ligand removal","w":3320,"v":0.922},{"p":"b","s":"After\u00a0\u00a0\u00a0ligand removal","w":3250,"v":0.93},{"p":"b","s":"After\u00a0\u00a0\u00a0ligand removal","w":3150,"v":0.937},{"p":"b","s":"After\u00a0\u00a0\u00a0ligand removal","w":3050,"v":0.942},{"p":"b","s":"After\u00a0\u00a0\u00a0ligand removal","w":2960,"v":0.945},{"p":"b","s":"After\u00a0\u00a0\u00a0ligand removal","w":2935,"v":0.948},{"p":"b","s":"After\u00a0\u00a0\u00a0ligand removal","w":2925,"v":0.965},{"p":"b","s":"After\u00a0\u00a0\u00a0ligand removal","w":2918,"v":0.97},{"p":"b","s":"After\u00a0\u00a0\u00a0ligand removal","w":2910,"v":0.95},{"p":"b","s":"After\u00a0\u00a0\u00a0ligand removal","w":2870,"v":0.95},{"p":"b","s":"After\u00a0\u00a0\u00a0ligand removal","w":2855,"v":0.96},{"p":"b","s":"After\u00a0\u00a0\u00a0ligand removal","w":2848,"v":0.962},{"p":"b","s":"After\u00a0\u00a0\u00a0ligand removal","w":2840,"v":0.95},{"p":"b","s":"After\u00a0\u00a0\u00a0ligand removal","w":2700,"v":0.95},{"p":"b","s":"After\u00a0\u00a0\u00a0ligand removal","w":2500,"v":0.951},{"p":"b","s":"After\u00a0\u00a0\u00a0ligand removal","w":2400,"v":0.95},{"p":"b","s":"After\u00a0\u00a0\u00a0ligand removal","w":2375,"v":0.948},{"p":"b","s":"After\u00a0\u00a0\u00a0ligand removal","w":2365,"v":0.93},{"p":"b","s":"After\u00a0\u00a0\u00a0ligand removal","w":2358,"v":0.903},{"p":"b","s":"After\u00a0\u00a0\u00a0ligand removal","w":2350,"v":0.91},{"p":"b","s":"After\u00a0\u00a0\u00a0ligand removal","w":2340,"v":0.925},{"p":"b","s":"After\u00a0\u00a0\u00a0ligand removal","w":2320,"v":0.935},{"p":"b","s":"After\u00a0\u00a0\u00a0ligand removal","w":2300,"v":0.945},{"p":"b","s":"After\u00a0\u00a0\u00a0ligand removal","w":2250,"v":0.948},{"p":"b","s":"After\u00a0\u00a0\u00a0ligand removal","w":2100,"v":0.949},{"p":"b","s":"After\u00a0\u00a0\u00a0ligand removal","w":1950,"v":0.95},{"p":"b","s":"After\u00a0\u00a0\u00a0ligand removal","w":1800,"v":0.95},{"p":"b","s":"After\u00a0\u00a0\u00a0ligand removal","w":1780,"v":0.945},{"p":"b","s":"After\u00a0\u00a0\u00a0ligand removal","w":1770,"v":0.93},{"p":"b","s":"After\u00a0\u00a0\u00a0ligand removal","w":1762,"v":0.9},{"p":"b","s":"After\u00a0\u00a0\u00a0ligand removal","w":1755,"v":0.84},{"p":"b","s":"After\u00a0\u00a0\u00a0ligand removal","w":1750,"v":0.825},{"p":"b","s":"After\u00a0\u00a0\u00a0ligand removal","w":1745,"v":0.84},{"p":"b","s":"After\u00a0\u00a0\u00a0ligand removal","w":1738,"v":0.9},{"p":"b","s":"After\u00a0\u00a0\u00a0ligand removal","w":1728,"v":0.93},{"p":"b","s":"After\u00a0\u00a0\u00a0ligand removal","w":1715,"v":0.945},{"p":"b","s":"After\u00a0\u00a0\u00a0ligand removal","w":1700,"v":0.947},{"p":"b","s":"After\u00a0\u00a0\u00a0ligand removal","w":1680,"v":0.94},{"p":"b","s":"After\u00a0\u00a0\u00a0ligand removal","w":1665,"v":0.937},{"p":"b","s":"After\u00a0\u00a0\u00a0ligand removal","w":1650,"v":0.93},{"p":"b","s":"After\u00a0\u00a0\u00a0ligand removal","w":1635,"v":0.935},{"p":"b","s":"After\u00a0\u00a0\u00a0ligand removal","w":1620,"v":0.94},{"p":"b","s":"After\u00a0\u00a0\u00a0ligand removal","w":1600,"v":0.945},{"p":"b","s":"After\u00a0\u00a0\u00a0ligand removal","w":1575,"v":0.947},{"p":"b","s":"After\u00a0\u00a0\u00a0ligand removal","w":1550,"v":0.95},{"p":"b","s":"After\u00a0\u00a0\u00a0ligand removal","w":1530,"v":0.957},{"p":"b","s":"After\u00a0\u00a0\u00a0ligand removal","w":1510,"v":0.965},{"p":"b","s":"After\u00a0\u00a0\u00a0ligand removal","w":1490,"v":0.98},{"p":"b","s":"After\u00a0\u00a0\u00a0ligand removal","w":1470,"v":0.99},{"p":"b","s":"After\u00a0\u00a0\u00a0ligand removal","w":1455,"v":0.998},{"p":"b","s":"After\u00a0\u00a0\u00a0ligand removal","w":1445,"v":1.0},{"p":"b","s":"After\u00a0\u00a0\u00a0ligand removal","w":1435,"v":0.995},{"p":"b","s":"After\u00a0\u00a0\u00a0ligand removal","w":1420,"v":0.985},{"p":"b","s":"After\u00a0\u00a0\u00a0ligand removal","w":1410,"v":0.96},{"p":"b","s":"After\u00a0\u00a0\u00a0ligand removal","w":1400,"v":0.92},{"p":"b","s":"After\u00a0\u00a0\u00a0ligand removal","w":1392,"v":0.87},{"p":"b","s":"After\u00a0\u00a0\u00a0ligand removal","w":1386,"v":0.79},{"p":"b","s":"After\u00a0\u00a0\u00a0ligand removal","w":1383,"v":0.755},{"p":"b","s":"After\u00a0\u00a0\u00a0ligand removal","w":1379,"v":0.8},{"p":"b","s":"After\u00a0\u00a0\u00a0ligand removal","w":1372,"v":0.9},{"p":"b","s":"After\u00a0\u00a0\u00a0ligand removal","w":1360,"v":0.935},{"p":"b","s":"After\u00a0\u00a0\u00a0ligand removal","w":1345,"v":0.942},{"p":"b","s":"After\u00a0\u00a0\u00a0ligand removal","w":1330,"v":0.935},{"p":"b","s":"After\u00a0\u00a0\u00a0ligand removal","w":1310,"v":0.925},{"p":"b","s":"After\u00a0\u00a0\u00a0ligand removal","w":1290,"v":0.915},{"p":"b","s":"After\u00a0\u00a0\u00a0ligand removal","w":1270,"v":0.9},{"p":"b","s":"After\u00a0\u00a0\u00a0ligand removal","w":1255,"v":0.89},{"p":"b","s":"After\u00a0\u00a0\u00a0ligand removal","w":1245,"v":0.86},{"p":"b","s":"After\u00a0\u00a0\u00a0ligand removal","w":1237,"v":0.825},{"p":"b","s":"After\u00a0\u00a0\u00a0ligand removal","w":1230,"v":0.812},{"p":"b","s":"After\u00a0\u00a0\u00a0ligand removal","w":1222,"v":0.85},{"p":"b","s":"After\u00a0\u00a0\u00a0ligand removal","w":1212,"v":0.9},{"p":"b","s":"After\u00a0\u00a0\u00a0ligand removal","w":1200,"v":0.92},{"p":"b","s":"After\u00a0\u00a0\u00a0ligand removal","w":1180,"v":0.927},{"p":"b","s":"After\u00a0\u00a0\u00a0ligand removal","w":1160,"v":0.915},{"p":"b","s":"After\u00a0\u00a0\u00a0ligand removal","w":1140,"v":0.918},{"p":"b","s":"After\u00a0\u00a0\u00a0ligand removal","w":1120,"v":0.912},{"p":"b","s":"After\u00a0\u00a0\u00a0ligand removal","w":1100,"v":0.91},{"p":"b","s":"After\u00a0\u00a0\u00a0ligand removal","w":1085,"v":0.918},{"p":"b","s":"After\u00a0\u00a0\u00a0ligand removal","w":1070,"v":0.915},{"p":"b","s":"After\u00a0\u00a0\u00a0ligand removal","w":1058,"v":0.9},{"p":"b","s":"After\u00a0\u00a0\u00a0ligand removal","w":1050,"v":0.875},{"p":"b","s":"After\u00a0\u00a0\u00a0ligand removal","w":1045,"v":0.865},{"p":"b","s":"After\u00a0\u00a0\u00a0ligand removal","w":1040,"v":0.88},{"p":"b","s":"After\u00a0\u00a0\u00a0ligand removal","w":1030,"v":0.91},{"p":"b","s":"After\u00a0\u00a0\u00a0ligand removal","w":1018,"v":0.917},{"p":"b","s":"After\u00a0\u00a0\u00a0ligand removal","w":1000,"v":0.918},{"p":"b","s":"After\u00a0\u00a0\u00a0ligand removal","w":980,"v":0.92},{"p":"b","s":"After\u00a0\u00a0\u00a0ligand removal","w":960,"v":0.922},{"p":"b","s":"After\u00a0\u00a0\u00a0ligand removal","w":940,"v":0.925},{"p":"b","s":"After\u00a0\u00a0\u00a0ligand removal","w":920,"v":0.93},{"p":"b","s":"After\u00a0\u00a0\u00a0ligand removal","w":900,"v":0.935},{"p":"b","s":"After\u00a0\u00a0\u00a0ligand removal","w":890,"v":0.94},{"p":"b","s":"After\u00a0\u00a0\u00a0ligand removal","w":882,"v":0.955},{"p":"b","s":"After\u00a0\u00a0\u00a0ligand removal","w":875,"v":0.938},{"p":"b","s":"After\u00a0\u00a0\u00a0ligand removal","w":860,"v":0.935},{"p":"b","s":"After\u00a0\u00a0\u00a0ligand removal","w":848,"v":0.927},{"p":"b","s":"After\u00a0\u00a0\u00a0ligand removal","w":800,"v":0.925},{"p":"b","s":"After\u00a0\u00a0\u00a0ligand removal","w":760,"v":0.923},{"p":"b","s":"After\u00a0\u00a0\u00a0ligand removal","w":720,"v":0.921},{"p":"b","s":"After\u00a0\u00a0\u00a0ligand removal","w":700,"v":0.918},{"p":"b","s":"After\u00a0\u00a0\u00a0ligand removal","w":670,"v":0.915},{"p":"b","s":"After\u00a0\u00a0\u00a0ligand removal","w":640,"v":0.913},{"p":"b","s":"After\u00a0\u00a0\u00a0ligand removal","w":600,"v":0.913},{"p":"b","s":"After\u00a0\u00a0\u00a0ligand removal","w":560,"v":0.912},{"p":"b","s":"After\u00a0\u00a0\u00a0ligand removal","w":530,"v":0.91},{"p":"b","s":"After\u00a0\u00a0\u00a0ligand removal","w":500,"v":0.912}
],
"arrows": [
{"p":"a","w1":3435,"v1":0.097,"w2":3205,"v2":0.128,"line":"solid","dir":72},
{"p":"a","w1":2928,"v1":0.691,"w2":2743,"v2":0.53,"line":"solid","dir":154},
{"p":"a","w1":2854,"v1":0.779,"w2":2725,"v2":0.53,"line":"dashed","dir":168},
{"p":"a","w1":1558,"v1":0.0,"w2":1478,"v2":-0.04,"line":"solid","dir":140},
{"p":"a","w1":1351,"v1":0.184,"w2":1367,"v2":0.009,"line":"dashed","dir":182},
{"p":"a","w1":624,"v1":0.525,"w2":636,"v2":0.403,"line":"dashed","dir":182},
{"p":"b","w1":3408,"v1":0.624,"w2":3197,"v2":0.558,"line":"solid","dir":126},
{"p":"b","w1":2903,"v1":0.799,"w2":2745,"v2":0.636,"line":"solid","dir":157},
{"p":"b","w1":2824,"v1":0.868,"w2":2700,"v2":0.636,"line":"dashed","dir":167},
{"p":"b","w1":1565,"v1":0.321,"w2":1515,"v2":0.227,"line":"dashed","dir":167},
{"p":"b","w1":1402,"v1":0.582,"w2":1447,"v2":0.218,"line":"dashed","dir":183},
{"p":"b","w1":633,"v1":0.43,"w2":656,"v2":0.287,"line":"dashed","dir":184}
],
"labels": [
{"p":"a","w":3075,"v":0.12,"t":"O-H"},
{"p":"a","w":2644,"v":0.477,"t":"C-H"},
{"p":"a","w":1351,"v":-0.058,"t":"C=O"},
{"p":"a","w":659,"v":0.345,"t":"C-S"},
{"p":"b","w":3062,"v":0.513,"t":"O-H"},
{"p":"b","w":2671,"v":0.573,"t":"C-H"},
{"p":"b","w":1474,"v":0.144,"t":"C=O"},
{"p":"b","w":672,"v":0.247,"t":"C-S"}
]
},
"spacing": 91,
"bounds": "flush",
"resolve": {"scale": {"color": "independent", "strokeDash": "independent"}, "legend": {"color": "independent"}},
"hconcat": [
{
"width": 506, "height": 411,
"title": {"text": "(a)", "anchor": "start", "frame": "group", "dx": -66, "offset": -3, "baseline": "alphabetic", "font": "Lato", "fontSize": 28, "fontWeight": "bold", "color": "#000"},
"layer": [
{"data": {"name": "spectra"}, "transform": [{"filter": "datum.p == 'a'"}],
"mark": {"type": "line", "strokeWidth": 2},
"encoding": {
"x": {"field": "w", "type": "quantitative", "title": "Wavenumber (cm\u207b\u00b9)", "scale": {"domain": [4000, 500], "nice": false, "zero": false},
 "axis": {"values": [4000,3750,3500,3250,3000,2750,2500,2250,2000,1750,1500,1250,1000,750,500], "labelExpr": "datum.value % 500 == 0 ? format(datum.value, 'd') : ''", "tickSize": {"condition": {"test": "datum.value % 500 == 0", "value": 7}, "value": 4}}},
"y": {"field": "v", "type": "quantitative", "title": "Normalized transmission", "scale": {"domain": [-0.1, 1.1], "nice": false, "zero": false},
 "axis": {"values": [0,0.1,0.2,0.3,0.4,0.5,0.6,0.7,0.8,0.9,1.0], "labelExpr": "round(datum.value*10) % 2 == 0 ? format(datum.value, '.1f') : ''", "tickSize": {"condition": {"test": "round(datum.value*10) % 2 == 0", "value": 8}, "value": 4}}},
"color": {"field": "s", "type": "nominal", "scale": {"domain": ["Before ligand removal", "After\u00a0\u00a0\u00a0ligand removal"], "range": ["#000000", "#ff0000"]},
 "legend": {"orient": "none", "legendX": 7, "legendY": 352, "title": null, "strokeColor": "#999", "padding": 5, "symbolType": "M-3,0H3", "symbolSize": 225, "symbolStrokeWidth": 3, "symbolOffset": 30, "labelOffset": 17, "labelFont": "Liberation Sans", "labelFontSize": 18, "labelFontWeight": "bold", "labelColor": "#000", "rowPadding": 5, "labelLimit": 400}}
}},
{"data": {"name": "arrows"}, "transform": [{"filter": "datum.p == 'a'"}],
"mark": {"type": "rule", "color": "#222", "strokeWidth": 1},
"encoding": {"x": {"field": "w1", "type": "quantitative", "title": "Wavenumber (cm\u207b\u00b9)"}, "y": {"field": "v1", "type": "quantitative", "title": "Normalized transmission"}, "x2": {"field": "w2"}, "y2": {"field": "v2"},
"strokeDash": {"field": "line", "type": "nominal", "scale": {"domain": ["solid", "dashed"], "range": [[1, 0], [4, 3]]}, "legend": null}}},
{"data": {"name": "arrows"}, "transform": [{"filter": "datum.p == 'a'"}],
"mark": {"type": "point", "shape": "triangle", "filled": true, "color": "#000", "size": 40, "opacity": 1},
"encoding": {"x": {"field": "w2", "type": "quantitative", "title": "Wavenumber (cm\u207b\u00b9)"}, "y": {"field": "v2", "type": "quantitative", "title": "Normalized transmission"}, "angle": {"field": "dir", "type": "quantitative", "scale": null}}},
{"data": {"name": "labels"}, "transform": [{"filter": "datum.p == 'a'"}],
"mark": {"type": "text", "font": "Liberation Sans", "fontSize": 17, "fontWeight": "bold", "color": "#000", "align": "center", "baseline": "middle"},
"encoding": {"x": {"field": "w", "type": "quantitative", "title": "Wavenumber (cm\u207b\u00b9)"}, "y": {"field": "v", "type": "quantitative", "title": "Normalized transmission"}, "text": {"field": "t"}}}
]
},
{
"width": 516, "height": 407,
"title": {"text": "(b)", "anchor": "start", "frame": "group", "dx": -31, "offset": -7, "baseline": "alphabetic", "font": "Lato", "fontSize": 28, "fontWeight": "bold", "color": "#000"},
"layer": [
{"data": {"name": "spectra"}, "transform": [{"filter": "datum.p == 'b'"}],
"mark": {"type": "line", "strokeWidth": 2},
"encoding": {
"x": {"field": "w", "type": "quantitative", "title": "Wavenumber (cm\u207b\u00b9)", "scale": {"domain": [4000, 500], "nice": false, "zero": false},
 "axis": {"values": [4000,3750,3500,3250,3000,2750,2500,2250,2000,1750,1500,1250,1000,750,500], "labelExpr": "datum.value % 500 == 0 ? format(datum.value, 'd') : ''", "tickSize": {"condition": {"test": "datum.value % 500 == 0", "value": 7}, "value": 4}}},
"y": {"field": "v", "type": "quantitative", "title": "Normalized transmission", "scale": {"domain": [-0.1, 1.1], "nice": false, "zero": false},
 "axis": {"values": [0,0.1,0.2,0.3,0.4,0.5,0.6,0.7,0.8,0.9,1.0], "labelExpr": "round(datum.value*10) % 2 == 0 ? format(datum.value, '.1f') : ''", "tickSize": {"condition": {"test": "round(datum.value*10) % 2 == 0", "value": 8}, "value": 4}}},
"color": {"field": "s", "type": "nominal", "scale": {"domain": ["Before ligand removal", "After\u00a0\u00a0\u00a0ligand removal"], "range": ["#000000", "#ff0000"]},
 "legend": {"orient": "none", "legendX": 6, "legendY": 348, "title": null, "strokeColor": "#999", "padding": 5, "symbolType": "M-3,0H3", "symbolSize": 225, "symbolStrokeWidth": 3, "symbolOffset": 29, "labelOffset": 15, "labelFont": "Liberation Sans", "labelFontSize": 18, "labelFontWeight": "bold", "labelColor": "#000", "rowPadding": 5, "labelLimit": 400}}
}},
{"data": {"name": "arrows"}, "transform": [{"filter": "datum.p == 'b'"}],
"mark": {"type": "rule", "color": "#222", "strokeWidth": 1},
"encoding": {"x": {"field": "w1", "type": "quantitative", "title": "Wavenumber (cm\u207b\u00b9)"}, "y": {"field": "v1", "type": "quantitative", "title": "Normalized transmission"}, "x2": {"field": "w2"}, "y2": {"field": "v2"},
"strokeDash": {"field": "line", "type": "nominal", "scale": {"domain": ["solid", "dashed"], "range": [[1, 0], [4, 3]]}, "legend": null}}},
{"data": {"name": "arrows"}, "transform": [{"filter": "datum.p == 'b'"}],
"mark": {"type": "point", "shape": "triangle", "filled": true, "color": "#000", "size": 40, "opacity": 1},
"encoding": {"x": {"field": "w2", "type": "quantitative", "title": "Wavenumber (cm\u207b\u00b9)"}, "y": {"field": "v2", "type": "quantitative", "title": "Normalized transmission"}, "angle": {"field": "dir", "type": "quantitative", "scale": null}}},
{"data": {"name": "labels"}, "transform": [{"filter": "datum.p == 'b'"}],
"mark": {"type": "text", "font": "Liberation Sans", "fontSize": 17, "fontWeight": "normal", "color": "#000", "align": "center", "baseline": "middle"},
"encoding": {"x": {"field": "w", "type": "quantitative", "title": "Wavenumber (cm\u207b\u00b9)"}, "y": {"field": "v", "type": "quantitative", "title": "Normalized transmission"}, "text": {"field": "t"}}}
]
}
],
"config": {
"view": {"stroke": "#000", "strokeWidth": 2},
"axis": {"domainColor": "#000", "domainWidth": 2, "tickColor": "#000", "tickWidth": 2, "labelColor": "#000", "labelFont": "Liberation Sans", "labelFontWeight": "bold", "labelFontSize": 14, "titleColor": "#000", "titleFont": "Liberation Sans", "titleFontWeight": "bold", "grid": false, "labelOverlap": false, "labelBound": false, "labelFlush": false},
"axisX": {"labelPadding": 4, "titlePadding": 17, "titleFontSize": 18},
"axisY": {"labelPadding": 5, "titlePadding": 28, "titleFontSize": 18.5}
}
}
